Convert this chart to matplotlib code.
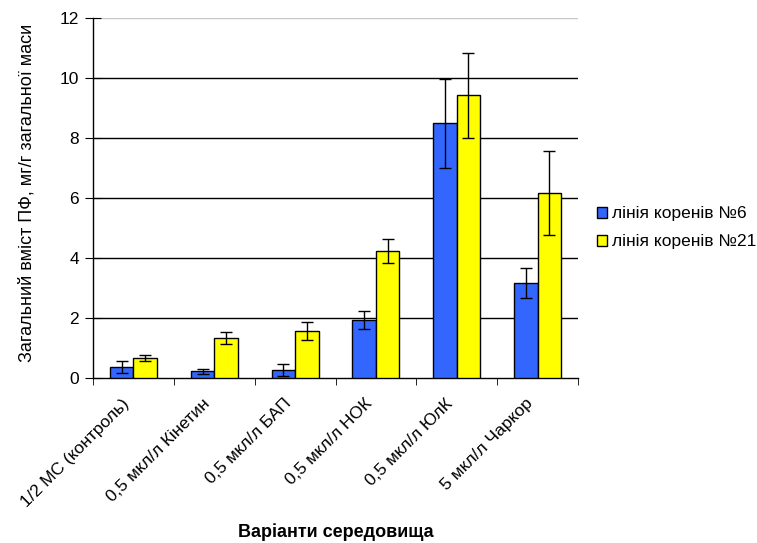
import matplotlib.pyplot as plt
import matplotlib.transforms as mtransforms
import numpy as np

plt.rcParams['font.family'] = ['Liberation Sans', 'DejaVu Sans']

categories = ['1/2 МС (контроль)', '0,5 мкл/л Кінетин', '0,5 мкл/л БАП',
              '0,5 мкл/л НОК', '0,5 мкл/л ЮлК', '5 мкл/л Чаркор']
line6 = [0.36, 0.22, 0.27, 1.93, 8.49, 3.16]
line6_err = [0.20, 0.09, 0.21, 0.30, 1.49, 0.51]
line21 = [0.68, 1.33, 1.56, 4.22, 9.42, 6.15]
line21_err = [0.10, 0.21, 0.30, 0.40, 1.41, 1.40]
labels = ['лінія коренів №6', 'лінія коренів №21']

fig = plt.figure(figsize=(7.57, 5.43), dpi=100)
ax = fig.add_axes([0.1229, 0.3039, 0.6406, 0.6630])

x = np.arange(len(categories))
w = 0.29
err_kw = dict(ecolor='black', elinewidth=1, capsize=4.5, capthick=1)
ax.bar(x - w/2, line6, w, yerr=line6_err, color='#3366ff', edgecolor='black',
       linewidth=1, label=labels[0], error_kw=err_kw, zorder=3)
ax.bar(x + w/2, line21, w, yerr=line21_err, color='#ffff00', edgecolor='black',
       linewidth=1, label=labels[1], error_kw=err_kw, zorder=3)

ax.set_xlim(-0.5, len(categories) - 0.5)
ax.set_ylim(0, 12)
ax.set_yticks(range(0, 13, 2))
for v in range(2, 12, 2):
    ax.axhline(v, color='black', linewidth=1, zorder=1)
ax.axhline(12, color='#c8c8c8', linewidth=1, zorder=1)

ax.spines['top'].set_visible(False)
ax.spines['right'].set_visible(False)
ax.spines['left'].set_linewidth(1)
ax.spines['bottom'].set_linewidth(1)

ax.set_xticks(np.arange(len(categories) + 1) - 0.5, minor=True)
ax.set_xticks(x)
ax.set_xticklabels(categories, rotation=45, ha='right', va='top',
                   rotation_mode='anchor', fontsize=12.5)
ax.tick_params(axis='x', which='major', length=0, pad=13)
ax.tick_params(axis='x', which='minor', length=5, direction='out')
ax.tick_params(axis='y', length=12, direction='inout', labelsize=12.5, pad=4)

# shift the rotated category labels a little to the left
shift = mtransforms.ScaledTranslation(-12 / 100, 0, fig.dpi_scale_trans)
for lbl in ax.get_xticklabels():
    lbl.set_transform(lbl.get_transform() + shift)

ax.set_ylabel('Загальний вміст ПФ, мг/г загальної маси', fontsize=13, va='center')
ax.yaxis.set_label_coords(-0.136, 0.515)
ax.set_xlabel('Варіанти середовища', fontsize=13, fontweight='bold', va='top')
ax.xaxis.set_label_coords(0.5, -0.403)

ax.legend(loc='center left', bbox_to_anchor=(1.025, 0.417), frameon=False,
          fontsize=12.5, handlelength=0.6, handleheight=0.6,
          handletextpad=0.25, labelspacing=0.75, borderaxespad=0)

fig.savefig('out.png', dpi=100)
